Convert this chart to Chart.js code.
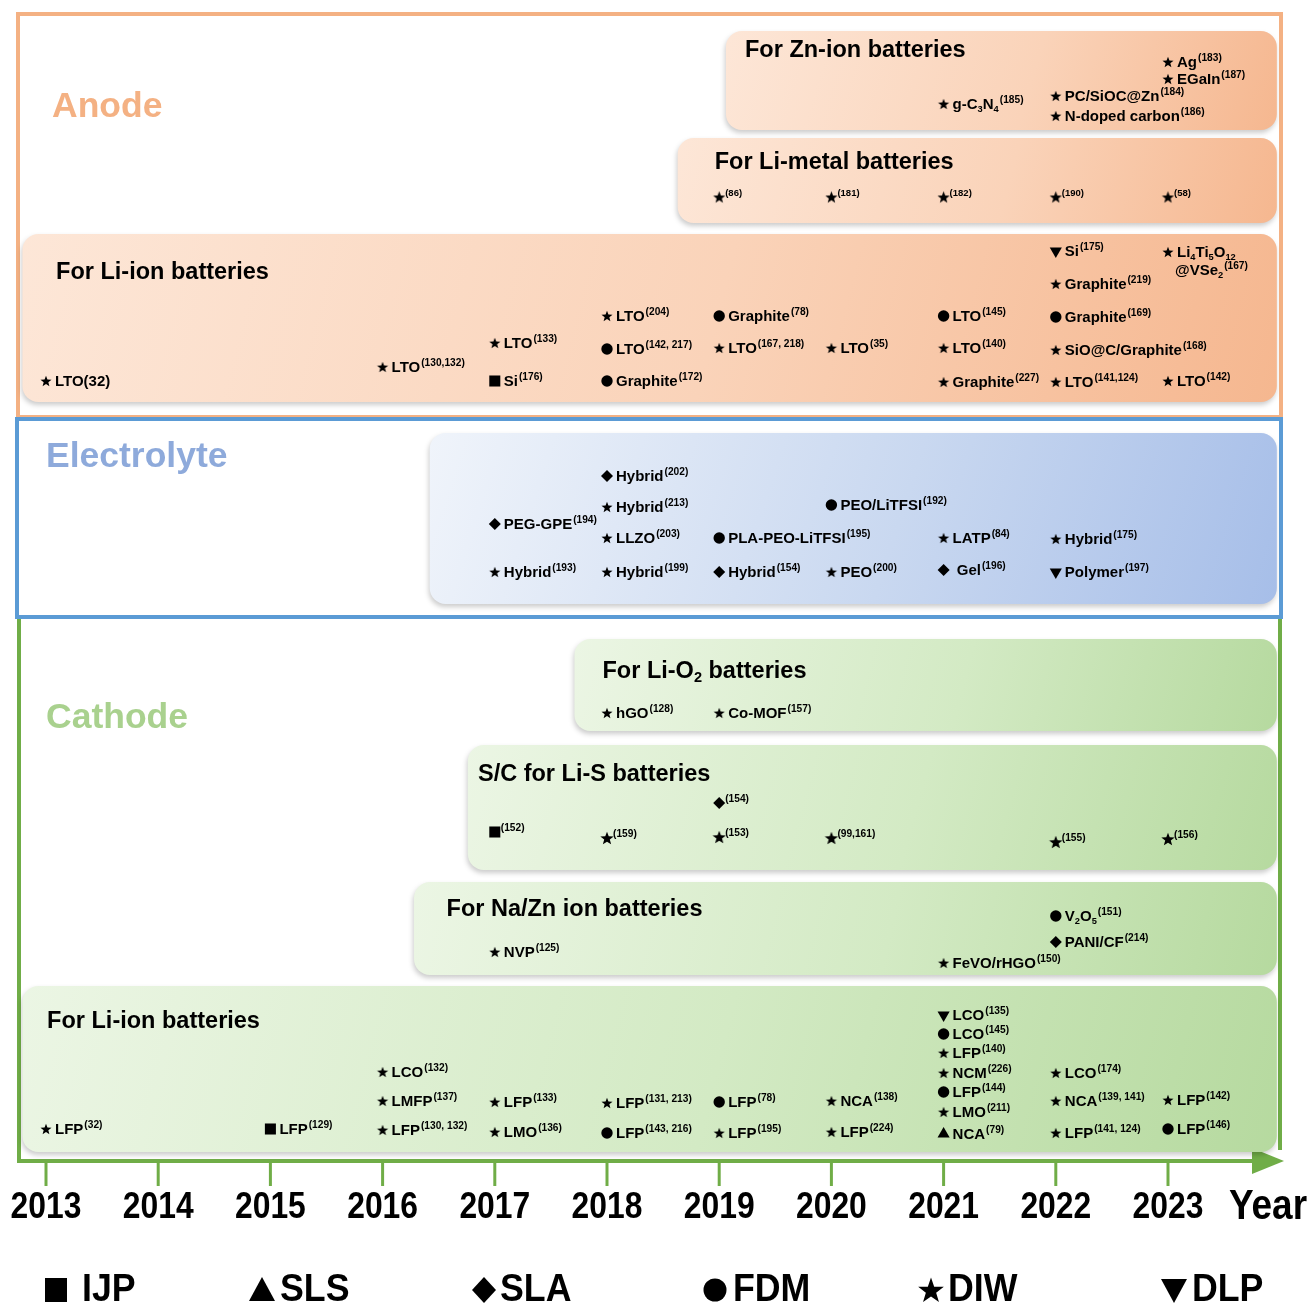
<!DOCTYPE html>
<html><head><meta charset="utf-8">
<script src="https://cdn.jsdelivr.net/npm/chart.js@4.4.1/dist/chart.umd.min.js"></script>
<style>html,body{margin:0;padding:0;background:#fff}#wrap{width:1312px;height:1305px;position:relative}</style>
</head><body><div id="wrap"><canvas id="c"></canvas></div>
<script>
// ---------- DATA ----------
const years = [2013,2014,2015,2016,2017,2018,2019,2020,2021,2022,2023];
const yearLabels = ['2013','2014','2015','2016','2017','2018','2019','2020','2021','2022','2023'];
const methods = ['IJP','SLS','SLA','FDM','DIW','DLP'];
// [year, row, method, material, reference]
const anodeZn = [
  [2023, 62, 'DIW', 'Ag', '183'],
  [2023, 79, 'DIW', 'EGaIn', '187'],
  [2021, 104, 'DIW', 'g-C_{3}N_{4}', '185'],
  [2022, 96, 'DIW', 'PC/SiOC@Zn', '184'],
  [2022, 116, 'DIW', 'N-doped carbon', '186']
];
const anodeLiMetal = [
  [2019, 197, 'DIW', '', '86'],
  [2020, 197, 'DIW', '', '181'],
  [2021, 197, 'DIW', '', '182'],
  [2022, 197, 'DIW', '', '190'],
  [2023, 197, 'DIW', '', '58']
];
const anodeLiIon = [
  [2013, 381, 'DIW', 'LTO(32)', ''],
  [2016, 367, 'DIW', 'LTO', '130,132'],
  [2017, 343, 'DIW', 'LTO', '133'],
  [2017, 381, 'IJP', 'Si', '176'],
  [2018, 316, 'DIW', 'LTO', '204'],
  [2018, 349, 'FDM', 'LTO', '142, 217'],
  [2018, 381, 'FDM', 'Graphite', '172'],
  [2019, 316, 'FDM', 'Graphite', '78'],
  [2019, 348, 'DIW', 'LTO', '167, 218'],
  [2020, 348, 'DIW', 'LTO', '35'],
  [2021, 316, 'FDM', 'LTO', '145'],
  [2021, 348, 'DIW', 'LTO', '140'],
  [2021, 382, 'DIW', 'Graphite', '227'],
  [2022, 251, 'DLP', 'Si', '175'],
  [2022, 284, 'DIW', 'Graphite', '219'],
  [2022, 317, 'FDM', 'Graphite', '169'],
  [2022, 350, 'DIW', 'SiO@C/Graphite', '168'],
  [2022, 382, 'DIW', 'LTO', '141,124'],
  [2023, 252, 'DIW', 'Li_{4}Ti_{5}O_{12}\n@VSe_{2}', '167'],
  [2023, 381, 'DIW', 'LTO', '142']
];
const electrolyte = [
  [2017, 524, 'SLA', 'PEG-GPE', '194'],
  [2017, 572, 'DIW', 'Hybrid', '193'],
  [2018, 476, 'SLA', 'Hybrid', '202'],
  [2018, 507, 'DIW', 'Hybrid', '213'],
  [2018, 538, 'DIW', 'LLZO', '203'],
  [2018, 572, 'DIW', 'Hybrid', '199'],
  [2019, 538, 'FDM', 'PLA-PEO-LiTFSI', '195'],
  [2019, 572, 'SLA', 'Hybrid', '154'],
  [2020, 505, 'FDM', 'PEO/LiTFSI', '192'],
  [2020, 572, 'DIW', 'PEO', '200'],
  [2021, 538, 'DIW', 'LATP', '84'],
  [2021, 570, 'SLA', ' Gel', '196'],
  [2022, 539, 'DIW', 'Hybrid', '175'],
  [2022, 572, 'DLP', 'Polymer', '197']
];
const cathodeLiO2 = [
  [2018, 713, 'DIW', 'hGO', '128'],
  [2019, 713, 'DIW', 'Co-MOF', '157']
];
const cathodeLiS = [
  [2017, 832, 'IJP', '', '152'],
  [2018, 838, 'DIW', '', '159'],
  [2019, 803, 'SLA', '', '154'],
  [2019, 837, 'DIW', '', '153'],
  [2020, 838, 'DIW', '', '99,161'],
  [2022, 842, 'DIW', '', '155'],
  [2023, 839, 'DIW', '', '156']
];
const cathodeNaZn = [
  [2017, 952, 'DIW', 'NVP', '125'],
  [2022, 916, 'FDM', 'V_{2}O_{5}', '151'],
  [2022, 942, 'SLA', 'PANI/CF', '214'],
  [2021, 963, 'DIW', 'FeVO/rHGO', '150']
];
const cathodeLiIon = [
  [2013, 1129, 'DIW', 'LFP', '32'],
  [2015, 1129, 'IJP', 'LFP', '129'],
  [2016, 1072, 'DIW', 'LCO', '132'],
  [2016, 1101, 'DIW', 'LMFP', '137'],
  [2016, 1130, 'DIW', 'LFP', '130, 132'],
  [2017, 1102, 'DIW', 'LFP', '133'],
  [2017, 1132, 'DIW', 'LMO', '136'],
  [2018, 1103, 'DIW', 'LFP', '131, 213'],
  [2018, 1133, 'FDM', 'LFP', '143, 216'],
  [2019, 1102, 'FDM', 'LFP', '78'],
  [2019, 1133, 'DIW', 'LFP', '195'],
  [2020, 1101, 'DIW', 'NCA', '138'],
  [2020, 1132, 'DIW', 'LFP', '224'],
  [2021, 1015, 'DLP', 'LCO', '135'],
  [2021, 1034, 'FDM', 'LCO', '145'],
  [2021, 1053, 'DIW', 'LFP', '140'],
  [2021, 1073, 'DIW', 'NCM', '226'],
  [2021, 1092, 'FDM', 'LFP', '144'],
  [2021, 1112, 'DIW', 'LMO', '211'],
  [2021, 1134, 'SLS', 'NCA', '79'],
  [2022, 1073, 'DIW', 'LCO', '174'],
  [2022, 1101, 'DIW', 'NCA', '139, 141'],
  [2022, 1133, 'DIW', 'LFP', '141, 124'],
  [2023, 1100, 'DIW', 'LFP', '142'],
  [2023, 1129, 'FDM', 'LFP', '146']
];
const sectionNames = ['Anode', 'Electrolyte', 'Cathode'];
const bandTitles = ['For Zn-ion batteries','For Li-metal batteries','For Li-ion batteries','','For Li-O_{2} batteries','S/C for Li-S batteries','For Na/Zn ion batteries','For Li-ion batteries'];

// ---------- LAYOUT ----------
const W = 1312, H = 1305, X0PX = 46, PXY = 112.2;
const xMin = 2013 - X0PX / PXY, xMax = xMin + W / PXY;
const FONT = '"Liberation Sans", Arial, Helvetica, sans-serif';
const bands = [
  {x0:2019.06, x1:2023.97, y0:31,  y1:130, tone:'orange', tx:2019.23, ty:48},
  {x0:2018.63, x1:2023.97, y0:138, y1:223, tone:'orange', tx:2018.96, ty:160},
  {x0:2012.79, x1:2023.97, y0:234, y1:402, tone:'orange', tx:2013.09, ty:270},
  {x0:2016.42, x1:2023.97, y0:433, y1:604, tone:'blue',   tx:0, ty:0},
  {x0:2017.71, x1:2023.97, y0:639, y1:731, tone:'green',  tx:2017.96, ty:669},
  {x0:2016.76, x1:2023.97, y0:745, y1:870, tone:'green',  tx:2016.85, ty:772},
  {x0:2016.28, x1:2023.97, y0:882, y1:975, tone:'green',  tx:2016.57, ty:907},
  {x0:2012.79, x1:2023.97, y0:986, y1:1152, tone:'green', tx:2013.01, ty:1019}
];
const tones = {
  orange: ['#fde7d8','#fad3b9','#f5b68e'],
  blue:   ['#f1f5fb','#c9d8f0','#a5bde8'],
  green:  ['#ecf6e5','#d3eac4','#b5d99e']
};

function makeStar(R){
  const s = Math.ceil(R*2)+2, c = document.createElement('canvas');
  c.width = s; c.height = s;
  const g = c.getContext('2d');
  g.translate(s/2, s/2 + R*0.1);
  g.beginPath();
  for (let i=0;i<10;i++){ const r = i%2 ? R*0.42 : R; const a = -Math.PI/2 + i*Math.PI/5; g.lineTo(r*Math.cos(a), r*Math.sin(a)); }
  g.closePath(); g.fillStyle = '#000'; g.fill();
  return c;
}
const starS = makeStar(5.8), starM = makeStar(6.4), starL = makeStar(7);
const markerDef = (m, star) => ({
  IJP:{style:'rect', r:7.8, rot:0},
  SLS:{style:'triangle', r:7, rot:0},
  SLA:{style:'rectRot', r:6, rot:0},
  FDM:{style:'circle', r:5.7, rot:0},
  DIW:{style:star, r:6, rot:0},
  DLP:{style:'triangle', r:7, rot:180}
}[m]);

const groups = [
  {src:anodeZn, star:starS, fs:15},
  {src:anodeLiMetal, star:starM, fs:14},
  {src:anodeLiIon, star:starS, fs:15},
  {src:electrolyte, star:starS, fs:15},
  {src:cathodeLiO2, star:starS, fs:15},
  {src:cathodeLiS, star:starL, fs:15},
  {src:cathodeNaZn, star:starS, fs:15},
  {src:cathodeLiIon, star:starS, fs:15}
];

const datasets = groups.map(g => ({
  data: g.src.map(d => ({x:d[0], y:d[1]})),
  src: g.src, fs: g.fs,
  pointStyle: ctx => ctx.dataIndex === undefined ? 'circle' : markerDef(g.src[ctx.dataIndex][2], g.star).style,
  pointRadius: ctx => ctx.dataIndex === undefined ? 5 : markerDef(g.src[ctx.dataIndex][2], g.star).r,
  rotation: ctx => ctx.dataIndex === undefined ? 0 : markerDef(g.src[ctx.dataIndex][2], g.star).rot,
  pointBackgroundColor: '#000', pointBorderColor: '#000', pointBorderWidth: 0,
  showLine: false
}));

function parseRich(s){
  const segs=[]; const re=/_\{([^}]*)\}/g; let last=0, m;
  while((m=re.exec(s))){ if(m.index>last) segs.push({t:s.slice(last,m.index),sub:false}); segs.push({t:m[1],sub:true}); last=re.lastIndex; }
  if(last<s.length) segs.push({t:s.slice(last),sub:false});
  return segs;
}
function drawRich(ctx, x, base, s, size){
  let cx = x;
  for (const g of parseRich(s)){
    const fs = g.sub ? size*0.62 : size;
    ctx.font = `bold ${fs}px ${FONT}`;
    ctx.fillText(g.t, cx, base + (g.sub ? size*0.2 : 0));
    cx += ctx.measureText(g.t).width;
  }
  return cx;
}
function drawSup(ctx, x, base, ref, size){
  ctx.font = `bold ${size*0.68}px ${FONT}`;
  ctx.fillText('(' + ref + ')', x + 1, base - size*0.4);
}
function textScaled(ctx, txt, x, y, sx, align){
  ctx.save(); ctx.translate(x, y); ctx.scale(sx, 1); ctx.textAlign = align; ctx.fillText(txt, 0, 0); ctx.restore();
}
function legendMarker(ctx, m, x, y){
  ctx.save(); ctx.fillStyle='#000'; ctx.beginPath();
  if (m==='IJP') ctx.rect(x-11, y-12, 22, 24);
  else if (m==='SLS'){ ctx.moveTo(x, y-13); ctx.lineTo(x+13, y+11); ctx.lineTo(x-13, y+11); }
  else if (m==='SLA'){ ctx.moveTo(x, y-13); ctx.lineTo(x+12, y); ctx.lineTo(x, y+13); ctx.lineTo(x-12, y); }
  else if (m==='FDM') ctx.arc(x, y, 11.5, 0, Math.PI*2);
  else if (m==='DIW'){ for (let i=0;i<10;i++){ const r=i%2?5.4:13.5; const a=-Math.PI/2+i*Math.PI/5; ctx.lineTo(x+r*Math.cos(a), y+1+r*Math.sin(a)); } }
  else if (m==='DLP'){ ctx.moveTo(x-13, y-11); ctx.lineTo(x+13, y-11); ctx.lineTo(x, y+13); }
  ctx.closePath(); ctx.fill(); ctx.restore();
}

const decor = {
  id:'decor',
  beforeDraw(chart){
    const c = chart.ctx; c.save(); c.fillStyle='#fff'; c.fillRect(0,0,chart.width,chart.height); c.restore();
  },
  beforeDatasetsDraw(chart){
    const c = chart.ctx, xs = chart.scales.x, ys = chart.scales.y;
    c.save();
    // frames
    c.lineWidth = 4;
    c.strokeStyle = '#f4b183'; c.strokeRect(18, 14, 1263, 403);
    c.strokeStyle = '#5b9bd5'; c.strokeRect(17, 419, 1264, 198);
    c.strokeStyle = '#70ad47';
    c.beginPath(); c.moveTo(19, 619); c.lineTo(19, 1161); c.lineTo(1256, 1161); c.stroke();
    c.beginPath(); c.moveTo(1280, 619); c.lineTo(1280, 1150); c.stroke();
    c.fillStyle = '#70ad47';
    c.beginPath(); c.moveTo(1252, 1148); c.lineTo(1284, 1161); c.lineTo(1252, 1174); c.closePath(); c.fill();
    // bands
    bands.forEach((b, i) => {
      const x0 = xs.getPixelForValue(b.x0), x1 = xs.getPixelForValue(b.x1);
      const y0 = ys.getPixelForValue(b.y0), y1 = ys.getPixelForValue(b.y1);
      const t = tones[b.tone];
      const gr = c.createLinearGradient(x0, y0 - (x1-x0)*0.06, x1, y1 + (x1-x0)*0.06);
      gr.addColorStop(0, t[0]); gr.addColorStop(0.55, t[1]); gr.addColorStop(1, t[2]);
      c.save();
      c.shadowColor = 'rgba(0,0,0,0.2)'; c.shadowBlur = 5; c.shadowOffsetX = -1; c.shadowOffsetY = 3;
      c.fillStyle = gr; c.beginPath(); c.roundRect(x0, y0, x1-x0, y1-y0, 16); c.fill();
      c.restore();
      if (bandTitles[i]){
        c.fillStyle = '#000'; c.textBaseline = 'alphabetic'; c.textAlign='left';
        drawRich(c, xs.getPixelForValue(b.tx), ys.getPixelForValue(b.ty) + 8.5, bandTitles[i], 23.5);
      }
    });
    // section labels
    const secCol = ['#f4b183','#8eaadb','#a9d18e'], secY = [107, 457, 718], secX = [52, 46, 46];
    c.font = `bold 35.5px ${FONT}`; c.textBaseline='middle'; c.textAlign='left';
    sectionNames.forEach((s, i) => { c.fillStyle = secCol[i]; c.fillText(s, secX[i], ys.getPixelForValue(secY[i])); });
    c.restore();
  },
  afterDatasetsDraw(chart){
    const c = chart.ctx, xs = chart.scales.x;
    c.save(); c.fillStyle = '#000'; c.textAlign = 'left'; c.textBaseline = 'alphabetic';
    chart.data.datasets.forEach((ds, di) => {
      const meta = chart.getDatasetMeta(di), fs = ds.fs;
      ds.src.forEach((d, i) => {
        const el = meta.data[i]; const lines = d[3].split('\n');
        const x = el.x + (d[3] ? 9 : 5);
        const base = el.y + fs*0.36;
        lines.forEach((ln, li) => {
          const lx = li === 0 ? x : x - 2;
          const lb = base + li*17.5;
          const endX = drawRich(c, lx, lb, ln, fs);
          if (li === lines.length-1 && d[4]) drawSup(c, endX, lb, d[4], fs);
        });
      });
    });
    // axis ticks and year labels
    c.strokeStyle = '#70ad47'; c.lineWidth = 3;
    years.forEach((y, i) => {
      const px = xs.getPixelForValue(y);
      c.beginPath(); c.moveTo(px, 1162); c.lineTo(px, 1186); c.stroke();
      c.font = `bold 37px ${FONT}`; c.textBaseline = 'middle';
      textScaled(c, yearLabels[i], px, 1208, 0.86, 'center');
    });
    c.font = `bold 42px ${FONT}`; c.textBaseline='middle';
    textScaled(c, 'Year', 1268, 1207, 0.88, 'center');
    // legend
    const lx = [56, 262, 484, 715, 931, 1174], tx = [82, 280, 500, 733, 948, 1192];
    methods.forEach((m, i) => {
      legendMarker(c, m, lx[i], 1290);
      c.font = `bold 38px ${FONT}`; c.textBaseline='middle'; c.fillStyle='#000';
      textScaled(c, m, tx[i], 1291, 0.94, 'left');
    });
    c.restore();
  }
};

new Chart(document.getElementById('c'), {
  type: 'scatter',
  data: { datasets },
  options: {
    responsive: true, maintainAspectRatio: false, animation: false, events: [],
    layout: { padding: 0, autoPadding: false },
    scales: {
      x: { type:'linear', min:xMin, max:xMax, display:false },
      y: { type:'linear', min:0, max:H, reverse:true, display:false }
    },
    plugins: { legend:{display:false}, tooltip:{enabled:false} }
  },
  plugins: [decor]
});
</script></body></html>
